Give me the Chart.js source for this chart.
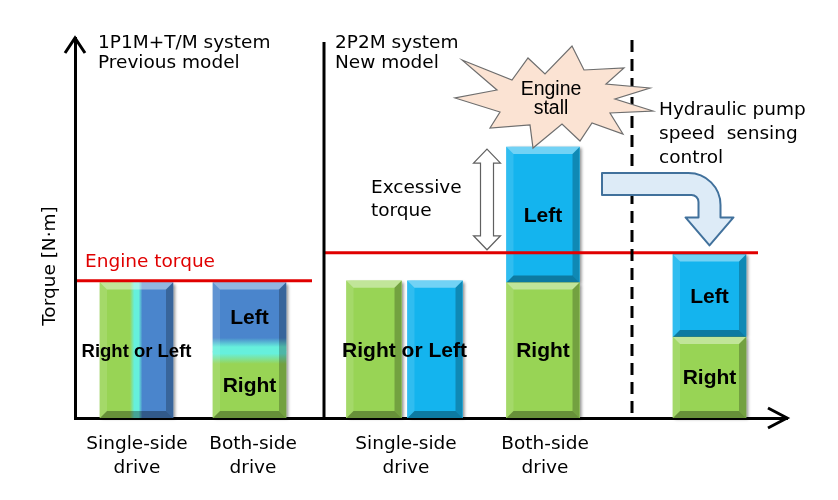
<!DOCTYPE html>
<html><head><meta charset="utf-8">
<script src="https://cdn.jsdelivr.net/npm/chart.js@4/dist/chart.umd.min.js"></script>
<style>html,body{margin:0;padding:0;background:#fff;}canvas{display:block}</style>
</head><body>
<canvas id="c" width="838" height="500"></canvas>
<script>
// ---------------- data ----------------
const barNames    = ['Single-side (previous)', 'Both-side (previous)', 'Single-side right (new)', 'Single-side left (new)', 'Both-side (new)', 'Both-side (new, speed sensing)'];
const barModel    = ['previous', 'previous', 'new', 'new', 'new', 'new'];
const barSlots    = [61.5, 174.5, 299, 360, 468, 634.5];   // place along the horizontal (unitless) axis
const rightTorque = [82, 40, 83, null, 82, 49];
const leftTorque  = [null, 42, null, 83, 82, 50];
const engineTorque = [83, 100];                           // previous model, new model
const engineSpan   = [[2, 237], [249, 683]];
const tickSlots    = [62, 178, 331, 470];
const tickLabels   = [['Single-side', 'drive'], ['Both-side', 'drive'], ['Single-side', 'drive'], ['Both-side', 'drive']];

// ---------------- style ----------------
const GREEN = '#98D455', CYAN = '#14B4EE', PREV_BLUE = '#4A85CC', AQUA = '#66F0DC', RED = '#E00000';
const FONT = '"DejaVu Sans"', ARIAL = '"Liberation Sans", Arial';

function faceColor(ctx) {
  const ds = ctx.dataset, chart = ctx.chart, i = ds.barIndex;
  const xs = chart.scales.x, ys = chart.scales.y;
  if (barModel[i] === 'previous' && xs && ys) {
    if (leftTorque[i] == null) {
      const cx = xs.getPixelForValue(barSlots[i]); const w = ds.barThickness;
      if (!isFinite(cx)) return GREEN;
      const g = chart.ctx.createLinearGradient(cx - w / 2, 0, cx + w / 2, 0);
      g.addColorStop(0, GREEN); g.addColorStop(0.41, GREEN); g.addColorStop(0.47, AQUA);
      g.addColorStop(0.53, AQUA); g.addColorStop(0.58, PREV_BLUE); g.addColorStop(1, PREV_BLUE);
      return g;
    }
    const j = ys.getPixelForValue(rightTorque[i]);
    if (!isFinite(j)) return GREEN;
    const g = chart.ctx.createLinearGradient(0, j - 14, 0, j + 12);
    g.addColorStop(0, PREV_BLUE); g.addColorStop(0.35, AQUA); g.addColorStop(0.6, AQUA); g.addColorStop(1, GREEN);
    return g;
  }
  return ds.side === 'right' ? GREEN : CYAN;
}

const datasets = [];
barSlots.forEach((x, i) => {
  const r = rightTorque[i], l = leftTorque[i];
  const thick = (barModel[i] === 'new' && (r == null || l == null)) ? 55 : 73;
  const base = r || 0;
  if (r != null) datasets.push({ type: 'bar', label: barNames[i] + ' – Right', barIndex: i, side: 'right',
    data: [{ x, y: [0, r] }], barThickness: thick, grouped: false, backgroundColor: faceColor, borderWidth: 0, order: 2 });
  if (l != null) datasets.push({ type: 'bar', label: barNames[i] + ' – Left', barIndex: i, side: 'left',
    data: [{ x, y: [base, base + l] }], barThickness: thick, grouped: false, backgroundColor: faceColor, borderWidth: 0, order: 2 });
});
engineTorque.forEach((v, k) => datasets.push({ type: 'line', label: 'Engine torque', order: 1,
  data: [{ x: engineSpan[k][0], y: v }, { x: engineSpan[k][1], y: v }],
  borderColor: RED, borderWidth: 3, pointRadius: 0, fill: false }));

// ---------------- helpers ----------------
function segBoxes(chart) {
  const out = [];
  chart.data.datasets.forEach((ds, di) => {
    if (ds.type !== 'bar') return;
    chart.getDatasetMeta(di).data.forEach(el => {
      const p = el.getProps(['x', 'y', 'base', 'width'], true);
      out.push({ bar: ds.barIndex, side: ds.side, L: p.x - p.width / 2, R: p.x + p.width / 2,
        T: Math.min(p.y, p.base), B: Math.max(p.y, p.base) });
    });
  });
  return out;
}
function unionOf(arr) {
  return { L: Math.min(...arr.map(s => s.L)), R: Math.max(...arr.map(s => s.R)),
           T: Math.min(...arr.map(s => s.T)), B: Math.max(...arr.map(s => s.B)) };
}
function bevelUnits(chart) {
  const segs = segBoxes(chart), groups = {};
  segs.forEach(s => {
    const key = barModel[s.bar] === 'previous' ? 'b' + s.bar : 'b' + s.bar + s.side;
    (groups[key] = groups[key] || []).push(s);
  });
  return Object.values(groups).map(unionOf);
}
function poly(c, pts, col) {
  c.beginPath(); pts.forEach(([x, y], k) => k ? c.lineTo(x, y) : c.moveTo(x, y)); c.closePath();
  c.fillStyle = col; c.fill();
}
function bevel(c, u, b) {
  const { L, R, T, B } = u;
  poly(c, [[L, T], [R, T], [R - b, T + b], [L + b, T + b]], 'rgba(255,255,255,0.40)');
  poly(c, [[L, T], [L + b, T + b], [L + b, B - b], [L, B]], 'rgba(255,255,255,0.12)');
  poly(c, [[R, T], [R, B], [R - b, B - b], [R - b, T + b]], 'rgba(0,0,0,0.24)');
  poly(c, [[L, B], [R, B], [R - b, B - b], [L + b, B - b]], 'rgba(0,0,0,0.32)');
}

const deco = {
  id: 'deco',
  beforeDatasetsDraw(chart) {
    const c = chart.ctx;
    c.save();
    c.shadowColor = 'rgba(0,0,0,0.45)'; c.shadowBlur = 3; c.shadowOffsetX = 2; c.shadowOffsetY = 1;
    bevelUnits(chart).forEach(u => { c.fillStyle = '#fff'; c.fillRect(u.L, u.T, u.R - u.L, u.B - u.T); });
    c.restore();
  },
  afterDatasetDraw(chart, args) {
    const ds = chart.data.datasets[args.index];
    if (ds.type !== 'bar') return;
    // bar datasets are drawn from the highest index down: bevel after the lowest-index bar dataset
    const firstBar = chart.data.datasets.findIndex(d => d.type === 'bar');
    if (args.index !== firstBar) return;
    const c = chart.ctx; c.save();
    bevelUnits(chart).forEach(u => bevel(c, u, 7));
    c.restore();
  },
  afterDatasetsDraw(chart) {
    const c = chart.ctx, segs = segBoxes(chart);
    c.save();
    c.fillStyle = '#000'; c.font = 'bold 21px ' + ARIAL; c.textAlign = 'center'; c.textBaseline = 'middle';
    const byBar = {};
    segs.forEach(s => (byBar[s.bar] = byBar[s.bar] || []).push(s));
    const singles = [];
    Object.keys(byBar).map(Number).sort((a, b) => a - b).forEach(k => {
      if (rightTorque[k] != null && leftTorque[k] != null) {
        byBar[k].forEach(s => c.fillText(s.side === 'right' ? 'Right' : 'Left', (s.L + s.R) / 2, (s.T + s.B) / 2 + 1));
      } else {
        const last = singles[singles.length - 1];
        if (last && last.model === barModel[k] && last.idx[last.idx.length - 1] === k - 1) { last.idx.push(k); last.segs.push(...byBar[k]); }
        else singles.push({ model: barModel[k], idx: [k], segs: [...byBar[k]] });
      }
    });
    singles.forEach(g => {
      const u = unionOf(g.segs);
      c.font = 'bold ' + (g.idx.length > 1 ? 21 : 18.5) + 'px ' + ARIAL;
      c.fillText('Right or Left', (u.L + u.R) / 2, (u.T + u.B) / 2 + 2);
    });
    c.restore();
  },
  afterDraw(chart) {
    const c = chart.ctx, ca = chart.chartArea, xs = chart.scales.x, ys = chart.scales.y;
    c.save();
    // axis arrowheads
    c.strokeStyle = '#000'; c.lineWidth = 3; c.lineJoin = 'miter'; c.lineCap = 'butt';
    c.beginPath(); c.moveTo(ca.left - 10, ca.top + 15); c.lineTo(ca.left, ca.top); c.lineTo(ca.left + 10, ca.top + 15); c.stroke();
    c.beginPath(); c.moveTo(ca.right - 19, ca.bottom - 10); c.lineTo(ca.right, ca.bottom); c.lineTo(ca.right - 19, ca.bottom + 10); c.stroke();
    // solid divider between models
    c.beginPath(); c.moveTo(324, 42); c.lineTo(324, ca.bottom); c.stroke();
    // dashed divider
    c.setLineDash([12, 7]);
    c.beginPath(); c.moveTo(632, 40); c.lineTo(632, ca.bottom); c.stroke();
    c.setLineDash([]);

    // y title
    c.save(); c.translate(55, 266); c.rotate(-Math.PI / 2);
    c.font = '18.5px ' + FONT; c.fillStyle = '#000'; c.textAlign = 'center'; c.textBaseline = 'alphabetic';
    c.fillText('Torque [N·m]', 0, 0); c.restore();

    // texts
    c.font = '18.5px ' + FONT; c.fillStyle = '#000'; c.textAlign = 'left'; c.textBaseline = 'alphabetic';
    c.fillText('1P1M+T/M system', 98, 48); c.fillText('Previous model', 98, 67.5);
    c.fillText('2P2M system', 335, 48); c.fillText('New model', 335, 67.5);
    c.fillText('Hydraulic pump', 659, 115); c.fillText('speed  sensing', 659, 139); c.fillText('control', 659, 163);
    c.fillText('Excessive', 371, 192.5); c.fillText('torque', 371, 216);
    c.fillStyle = RED; c.fillText('Engine torque', 85, 267);

    // burst
    const burst = [[462,60],[512,80],[528,58],[545,74],[572,46],[584,70],[624,68],[606,84],[650,88],[615,99],[653,111],[610,113],[623,134],[592,123],[580,141],[562,124],[533,148],[530,125],[490,128],[500,112],[455,98],[497,90]];
    c.beginPath(); burst.forEach(([x, y], k) => k ? c.lineTo(x, y) : c.moveTo(x, y)); c.closePath();
    c.fillStyle = '#FBE3D3'; c.fill(); c.strokeStyle = '#6E6E6E'; c.lineWidth = 1.2; c.lineJoin = 'miter'; c.stroke();
    c.fillStyle = '#000'; c.font = '19.5px ' + ARIAL; c.textAlign = 'center';
    c.fillText('Engine', 551, 94.5); c.fillText('stall', 551, 114);

    // excessive torque double arrow (from engine torque to both-side total)
    const bothIdx = 4;
    const topY = ys.getPixelForValue(rightTorque[bothIdx] + leftTorque[bothIdx]) + 2;
    const botY = ys.getPixelForValue(engineTorque[1]) - 3;
    const ax = xs.getPixelForValue(barSlots[bothIdx]) - 56;
    const hh = 14, hw = 13.5, sw = 6.5;
    c.beginPath();
    c.moveTo(ax, topY); c.lineTo(ax + hw, topY + hh); c.lineTo(ax + sw, topY + hh); c.lineTo(ax + sw, botY - hh);
    c.lineTo(ax + hw, botY - hh); c.lineTo(ax, botY); c.lineTo(ax - hw, botY - hh); c.lineTo(ax - sw, botY - hh);
    c.lineTo(ax - sw, topY + hh); c.lineTo(ax - hw, topY + hh); c.closePath();
    c.fillStyle = '#fff'; c.fill(); c.strokeStyle = '#606060'; c.lineWidth = 1.2; c.stroke();

    // bent arrow to the speed-sensing bar
    const ctrl = 5;
    const tx = xs.getPixelForValue(barSlots[ctrl]);
    const ty = ys.getPixelForValue(rightTorque[ctrl] + leftTorque[ctrl]) - 9;
    const sh = 11, headW = 24, headH = 28, yT = 173, yB = 195, xL = 602;
    c.beginPath();
    c.moveTo(xL, yT); c.arcTo(tx + sh, yT, tx + sh, yT + 34, 32); c.lineTo(tx + sh, ty - headH);
    c.lineTo(tx + headW, ty - headH); c.lineTo(tx, ty); c.lineTo(tx - headW, ty - headH); c.lineTo(tx - sh, ty - headH);
    c.lineTo(tx - sh, yB + 7); c.arcTo(tx - sh, yB, tx - sh - 7, yB, 7); c.lineTo(xL, yB); c.closePath();
    c.fillStyle = '#DDEBF7'; c.fill(); c.strokeStyle = '#41719C'; c.lineWidth = 2; c.lineJoin = 'round'; c.stroke();
    c.restore();
  }
};

new Chart(document.getElementById('c'), {
  data: { datasets },
  options: {
    responsive: false, animation: false, devicePixelRatio: 1,
    layout: { padding: { top: 38, right: 51, left: 0, bottom: 0 } },
    plugins: { legend: { display: false }, tooltip: { enabled: false } },
    scales: {
      x: {
        type: 'linear', min: 0, max: 712, offset: false,
        grid: { display: false, drawTicks: false, offset: false },
        border: { display: true, color: '#000', width: 3 },
        afterBuildTicks: s => { s.ticks = tickSlots.map(v => ({ value: v })); },
        afterFit: s => { s.height = 82; },
        ticks: { autoSkip: false, maxRotation: 0, minRotation: 0, padding: 14, color: '#000',
          font: { family: 'DejaVu Sans', size: 18.5, lineHeight: 1.3 }, callback: (v, i) => tickLabels[i] }
      },
      y: {
        type: 'linear', min: 0, max: 230,
        grid: { display: false, drawTicks: false },
        border: { display: true, color: '#000', width: 3 },
        ticks: { display: false },
        afterFit: s => { s.width = 75; }
      }
    }
  },
  plugins: [deco]
});
</script>
</body></html>
